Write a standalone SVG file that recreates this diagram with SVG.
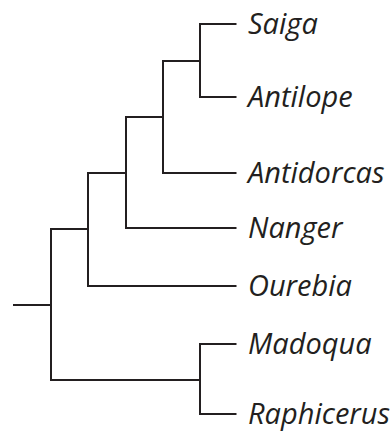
<svg xmlns="http://www.w3.org/2000/svg" width="392" height="432" viewBox="0 0 392 432">
<style>
.e{fill:none;stroke:#231f20;stroke-width:2;stroke-linecap:butt;stroke-linejoin:miter}
.t{font-family:"Open Sans","Noto Sans",sans-serif;font-style:italic;font-size:29px;fill:#231f20}
</style>
<rect width="392" height="432" fill="#fff"/>
<g id="connectors">
<path class="e" d="M236.5,24 H200 V97 H236.5"/>
<path class="e" d="M200,61 H163 V173 H236.5"/>
<path class="e" d="M163,117 H126 V228 H236.5"/>
<path class="e" d="M126,173 H88 V286 H236.5"/>
<path class="e" d="M88,229 H51 V380 H200"/>
<path class="e" d="M236.5,344 H200 V414 H236.5"/>
<path class="e" d="M13,305 H51"/>
</g>
<g id="saiga"><text class="t" x="248" y="34">Saiga</text></g>
<g id="antilope"><text class="t" x="248" y="107">Antilope</text></g>
<g id="antidorcas"><text class="t" x="248" y="183">Antidorcas</text></g>
<g id="nanger"><text class="t" x="248" y="238">Nanger</text></g>
<g id="ourebia"><text class="t" x="248" y="296">Ourebia</text></g>
<g id="madoqua"><text class="t" x="248" y="354">Madoqua</text></g>
<g id="raphicerus"><text class="t" x="248" y="424">Raphicerus</text></g>
</svg>
